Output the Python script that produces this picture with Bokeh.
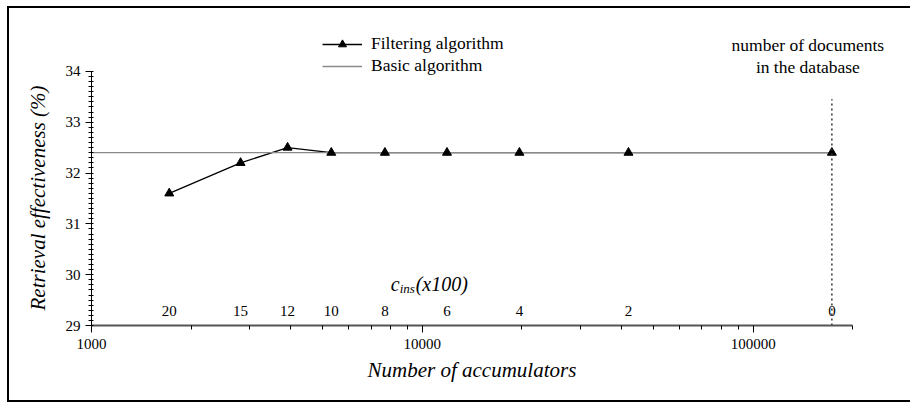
from bokeh.plotting import figure
from bokeh.models import (Range1d, FixedTicker, SingleIntervalTicker, BasicTickFormatter,
                          Legend, LegendItem, Label, ColumnDataSource, Title)
from bokeh.core.properties import value
from bokeh.embed import file_html
from bokeh.resources import INLINE

# ---- data ----
accumulators = [1718, 2822, 3914, 5306, 7706, 11870, 19650, 41970, 172900]
effectiveness = [31.6, 32.2, 32.5, 32.4, 32.4, 32.4, 32.4, 32.4, 32.4]
cins_labels = ["20", "15", "12", "10", "8", "6", "4", "2", "0"]
basic_effectiveness = 32.4
n_documents = 172900
x_axis_start, x_axis_end = 1000, 200000
y_axis_start, y_axis_end = 29, 34
x_view_end = 260000
y_view_end = 35
x_major_ticks = [1000, 10000, 100000]
x_minor_ticks = [2000, 3000, 4000, 5000, 6000, 7000, 8000, 9000,
                 20000, 30000, 40000, 50000, 60000, 70000, 80000, 90000, 200000]
docs_marker_top = 33.45
cins_row_y = 29.28

SERIF = "Liberation Serif"

p = figure(width=903, height=396, x_axis_type="log",
           x_range=Range1d(x_axis_start, x_view_end), y_range=Range1d(y_axis_start, y_view_end),
           output_backend="svg", toolbar_location=None,
           min_border_left=82, min_border_right=22, min_border_top=12, min_border_bottom=79)
p.styles = {"margin-left": "7px", "margin-top": "6px",
            "border-left": "2px solid black", "border-top": "2px solid black",
            "border-bottom": "2px solid black"}
p.grid.visible = False
p.outline_line_color = None
p.background_fill_color = "white"
p.border_fill_color = "white"

# axes
xa = p.xaxis[0]
xa.bounds = (x_axis_start, x_axis_end)
xa.ticker = FixedTicker(ticks=x_major_ticks, minor_ticks=x_minor_ticks)
xa.formatter = BasicTickFormatter(use_scientific=False)
xa.axis_line_color = "#555555"
xa.axis_line_width = 2
xa.major_tick_line_color = "black"
xa.minor_tick_line_color = "black"
xa.major_tick_out = 7
xa.major_tick_in = 0
xa.minor_tick_out = 4
xa.minor_tick_in = 0
xa.major_label_text_font = SERIF
xa.major_label_text_font_size = "15px"
xa.major_label_text_color = "black"
xa.major_label_standoff = 6

ya = p.yaxis[0]
ya.bounds = (y_axis_start, y_axis_end)
ya.ticker = SingleIntervalTicker(interval=1, num_minor_ticks=10)
ya.axis_line_color = "black"
ya.axis_line_width = 1
ya.major_tick_line_color = "black"
ya.minor_tick_line_color = "black"
ya.major_tick_out = 6
ya.major_tick_in = 0
ya.minor_tick_out = 3
ya.minor_tick_in = 2
ya.major_label_text_font = SERIF
ya.major_label_text_font_size = "15px"
ya.major_label_text_color = "black"
ya.major_label_standoff = 5

# axis titles (placed to match the axis extents, not the whole frame)
p.add_layout(Title(text="Number of accumulators", align="left", offset=276,
                   vertical_align="top", standoff=13, text_font=SERIF,
                   text_font_style="italic", text_font_size="21px", text_color="black"), "below")
p.add_layout(Title(text="Retrieval effectiveness (%)", align="left", offset=15,
                   vertical_align="middle", standoff=24, text_font=SERIF,
                   text_font_style="italic", text_font_size="21px", text_color="black"), "left")

src = ColumnDataSource(dict(x=accumulators, y=effectiveness, lab=cins_labels,
                            ly=[cins_row_y] * len(accumulators)))

filt_line = p.line("x", "y", source=src, line_color="black", line_width=1.3)
basic_line = p.line([x_axis_start, n_documents], [basic_effectiveness, basic_effectiveness],
                    line_color="#8a8a8a", line_width=1.4)
filt_pts = p.scatter("x", "y", source=src, marker="triangle", size=9,
                     fill_color="black", line_color="black")

# vertical dotted line at number of documents
p.line([n_documents, n_documents], [y_axis_start, docs_marker_top], line_color="#333333",
       line_width=1.5, line_dash="2 3")

# c_ins labels along the bottom
p.text("x", "ly", text="lab", source=src, text_font=value(SERIF), text_font_size="15px",
       text_align="center", text_baseline="middle", text_color="black")

# c_ins(x100) label
cins_anchor_x = 8020
cins_anchor_y = 29.81
p.add_layout(Label(x=cins_anchor_x, y=cins_anchor_y, text="c", text_font=SERIF,
                   text_font_style="italic", text_font_size="20px", text_baseline="alphabetic",
                   text_color="black"))
p.add_layout(Label(x=cins_anchor_x, y=cins_anchor_y, x_offset=9, y_offset=-4, text="ins",
                   text_font=SERIF, text_font_style="italic", text_font_size="13px",
                   text_baseline="alphabetic", text_color="black"))
p.add_layout(Label(x=cins_anchor_x, y=cins_anchor_y, x_offset=25, text="(x100)",
                   text_font=SERIF, text_font_style="italic", text_font_size="20px",
                   text_baseline="alphabetic", text_color="black"))

# number of documents label
p.add_layout(Label(x=n_documents, y=34.72, x_offset=-24,
                   text="number of documents\nin the database", text_font=SERIF,
                   text_font_size="17.5px", text_align="center", text_baseline="top",
                   text_line_height=1.1, text_color="black"))

legend = Legend(items=[LegendItem(label="Filtering algorithm", renderers=[filt_line, filt_pts]),
                       LegendItem(label="Basic algorithm", renderers=[basic_line])],
                location=(231, 249))
legend.border_line_color = None
legend.background_fill_alpha = 0
legend.padding = 0
legend.margin = 0
legend.spacing = 1
legend.glyph_width = 40
legend.glyph_height = 20
legend.label_height = 20
legend.label_standoff = 9
legend.label_text_font = SERIF
legend.label_text_font_size = "17.5px"
legend.label_text_color = "black"
p.add_layout(legend)

open("out.html", "w").write(file_html(p, INLINE))
